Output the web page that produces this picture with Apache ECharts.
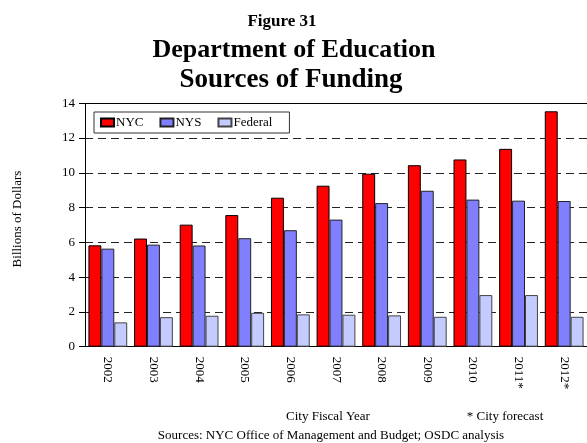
<!DOCTYPE html>
<html><head><meta charset="utf-8">
<script src="https://cdn.jsdelivr.net/npm/echarts@6/dist/echarts.min.js"></script>
<style>html,body{margin:0;padding:0;background:#fff}#c{width:587px;height:443px}</style>
</head><body><div id="c"></div>
<script>
const categories = ['2002','2003','2004','2005','2006','2007','2008','2009','2010','2011*','2012*'];
const nyc = [5.83, 6.22, 7.02, 7.57, 8.57, 9.26, 9.95, 10.44, 10.77, 11.38, 13.54];
const nys = [5.64, 5.87, 5.82, 6.24, 6.70, 7.31, 8.26, 8.97, 8.46, 8.40, 8.38];
const federal = [1.40, 1.70, 1.78, 1.95, 1.86, 1.84, 1.80, 1.72, 2.97, 2.97, 1.72];
const yTicks = [0, 2, 4, 6, 8, 10, 12, 14];

const F = 'Liberation Serif';
const chart = echarts.init(document.getElementById('c'));
function bar(name, data, color, border) {
  return { name, type: 'bar', data, barGap: '0%', barCategoryGap: '15%',
    itemStyle: { color, borderColor: border, borderWidth: 1 }, xAxisIndex: 0 };
}
chart.setOption({
  animation: false,
  textStyle: { fontFamily: F },
  title: [
    { text: 'Figure 31', left: 277, top: 8, textAlign: 'center',
      textStyle: { fontFamily: F, fontSize: 17, fontWeight: 'bold', color: '#000' } },
    { text: 'Department of Education', left: 289, top: 32, textAlign: 'center',
      textStyle: { fontFamily: F, fontSize: 26, fontWeight: 'bold', color: '#000' } },
    { text: 'Sources of Funding', left: 286, top: 62, textAlign: 'center',
      textStyle: { fontFamily: F, fontSize: 27, fontWeight: 'bold', color: '#000' } },
    { text: 'City Fiscal Year', left: 323, top: 405, textAlign: 'center',
      textStyle: { fontFamily: F, fontSize: 13, fontWeight: 'normal', color: '#000' } },
    { text: '* City forecast', left: 500, top: 405, textAlign: 'center',
      textStyle: { fontFamily: F, fontSize: 13, fontWeight: 'normal', color: '#000' } },
    { text: 'Sources: NYC Office of Management and Budget; OSDC analysis', left: 326, top: 424, textAlign: 'center',
      textStyle: { fontFamily: F, fontSize: 13, fontWeight: 'normal', color: '#000' } }
  ],
  graphic: [{
    type: 'text', x: 18, y: 219, rotation: Math.PI / 2,
    style: { text: 'Billions of Dollars', font: '13px "Liberation Serif"', fill: '#000',
      textAlign: 'center', textVerticalAlign: 'middle' }
  }],
  legend: {
    left: 94, top: 112, orient: 'horizontal',
    data: ['NYC', 'NYS', 'Federal'],
    itemWidth: 13, itemHeight: 8, itemGap: 16,
    padding: [4, 17, 4, 6],
    borderColor: '#333', borderWidth: 1, backgroundColor: '#fff',
    textStyle: { fontFamily: F, fontSize: 13, color: '#000', padding: [0, 0, 0, -3] },
    icon: 'rect'
  },
  grid: { left: 85, right: -2, top: 103.3, bottom: 96.3, containLabel: false },
  xAxis: [{
    type: 'category', data: categories,
    axisLine: { lineStyle: { color: '#000', width: 1 } },
    axisTick: { alignWithLabel: true, length: 6, lineStyle: { color: '#000' } },
    axisLabel: { rotate: -90, margin: 10, fontFamily: F, fontSize: 13, color: '#000' }
  }, {
    type: 'category', data: categories, position: 'top',
    axisLine: { show: true, lineStyle: { color: '#000', width: 1 } },
    axisTick: { show: false }, axisLabel: { show: false }
  }],
  yAxis: {
    type: 'value', min: 0, max: 14, interval: 2,
    axisLine: { show: true, lineStyle: { color: '#000' } },
    axisTick: { show: true, length: 6, lineStyle: { color: '#000' } },
    axisLabel: { margin: 10, fontFamily: F, fontSize: 13, color: '#000',
      formatter: v => yTicks.includes(v) ? String(v) : '' },
    splitLine: { show: true, lineStyle: { color: '#222', type: [8, 5], width: 1 } }
  },
  series: [
    bar('NYC', nyc, '#ff0000', '#000'),
    bar('NYS', nys, '#8080ff', '#222'),
    bar('Federal', federal, '#c4cbff', '#444')
  ]
});
</script></body></html>
